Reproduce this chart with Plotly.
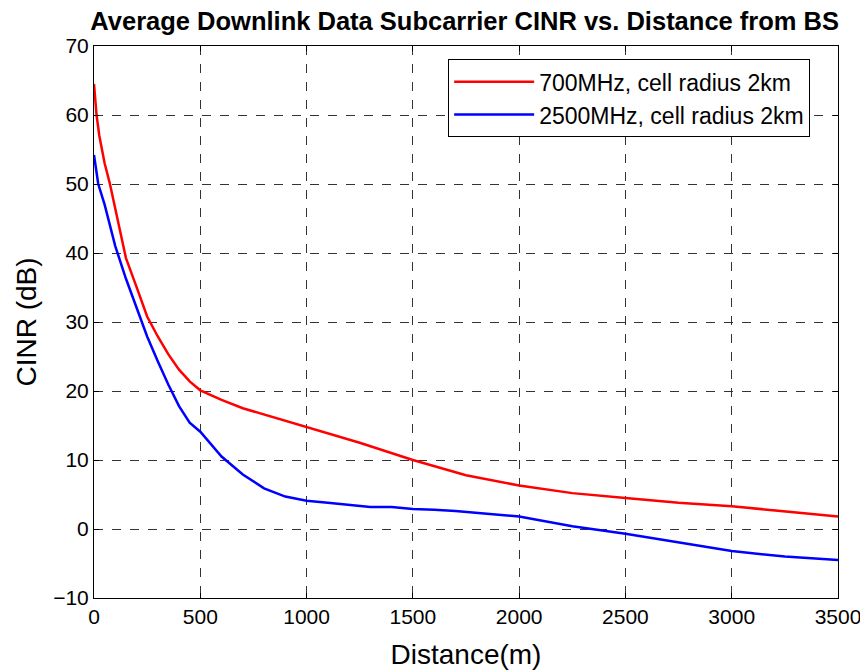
import plotly.graph_objects as go

# distance from BS (m) and CINR (dB)
dist_700 = [0, 12, 25, 50, 75, 100, 150, 200, 250, 300, 350, 400, 450, 500, 600,
            700, 800, 900, 1000, 1250, 1500, 1750, 2000, 2250, 2500, 2750, 3000,
            3250, 3500]
cinr_700 = [64.5, 60.0, 57.0, 53.0, 50.0, 46.3, 39.3, 35.1, 30.8, 27.9, 25.3,
            23.1, 21.4, 20.1, 18.7, 17.5, 16.6, 15.6, 14.8, 12.5, 10.0, 7.8, 6.3,
            5.2, 4.5, 3.8, 3.3, 2.6, 1.8]

dist_2500 = [0, 20, 50, 100, 150, 200, 250, 300, 350, 400, 450, 500, 600, 700,
             800, 900, 1000, 1100, 1200, 1300, 1400, 1500, 1600, 1700, 2000,
             2250, 2500, 2750, 3000, 3250, 3500]
cinr_2500 = [54.2, 50.0, 47.0, 41.0, 36.3, 32.2, 27.9, 24.3, 20.9, 17.8, 15.4,
             14.1, 10.5, 7.9, 5.9, 4.7, 4.1, 3.8, 3.5, 3.2, 3.2, 2.9, 2.8, 2.6,
             1.8, 0.4, -0.7, -2.0, -3.2, -4.0, -4.5]

x_ticks = [0, 500, 1000, 1500, 2000, 2500, 3000, 3500]
y_ticks = [-10, 0, 10, 20, 30, 40, 50, 60, 70]

font_family = 'Arial, Liberation Sans, sans-serif'

fig = go.Figure()
fig.add_trace(go.Scatter(
    x=dist_700, y=cinr_700, mode='lines',
    name='700MHz, cell radius 2km',
    line=dict(color='#ff0000', width=2.5),
))
fig.add_trace(go.Scatter(
    x=dist_2500, y=cinr_2500, mode='lines',
    name='2500MHz, cell radius 2km',
    line=dict(color='#0000ff', width=2.5),
))

axis_common = dict(
    showline=True, linecolor='black', linewidth=1, mirror='ticks',
    ticks='inside', ticklen=5, tickcolor='black',
    showgrid=True, gridcolor='#333333', griddash='dash', gridwidth=1,
    zeroline=False, automargin=False,
    tickfont=dict(size=21, color='black', family=font_family),
)

# page body has an 8px margin, so the figure is a bit smaller than the window
fig.update_layout(
    width=860, height=664,
    margin=dict(l=86, r=30, t=38, b=74),
    paper_bgcolor='white',
    plot_bgcolor='white',
    font=dict(family=font_family, color='black'),
    title=dict(
        text='<b>Average Downlink Data Subcarrier CINR vs. Distance from BS</b>',
        x=0.531, xanchor='center', y=0.981, yanchor='middle',
        font=dict(size=25.5, color='black'),
    ),
    xaxis=dict(
        range=[0, 3500], tickvals=x_ticks,
        title=dict(text='Distance(m)', font=dict(size=28), standoff=17),
        **axis_common,
    ),
    yaxis=dict(
        range=[-10, 70], tickvals=y_ticks,
        title=dict(text='CINR (dB)', font=dict(size=28), standoff=8),
        **axis_common,
    ),
    legend=dict(
        x=0.476, y=0.976, xanchor='left', yanchor='top',
        bgcolor='white', bordercolor='black', borderwidth=1,
        font=dict(size=23, color='black'),
        itemwidth=80, tracegroupgap=0,
    ),
    showlegend=True,
)

fig.write_html("out.html")
